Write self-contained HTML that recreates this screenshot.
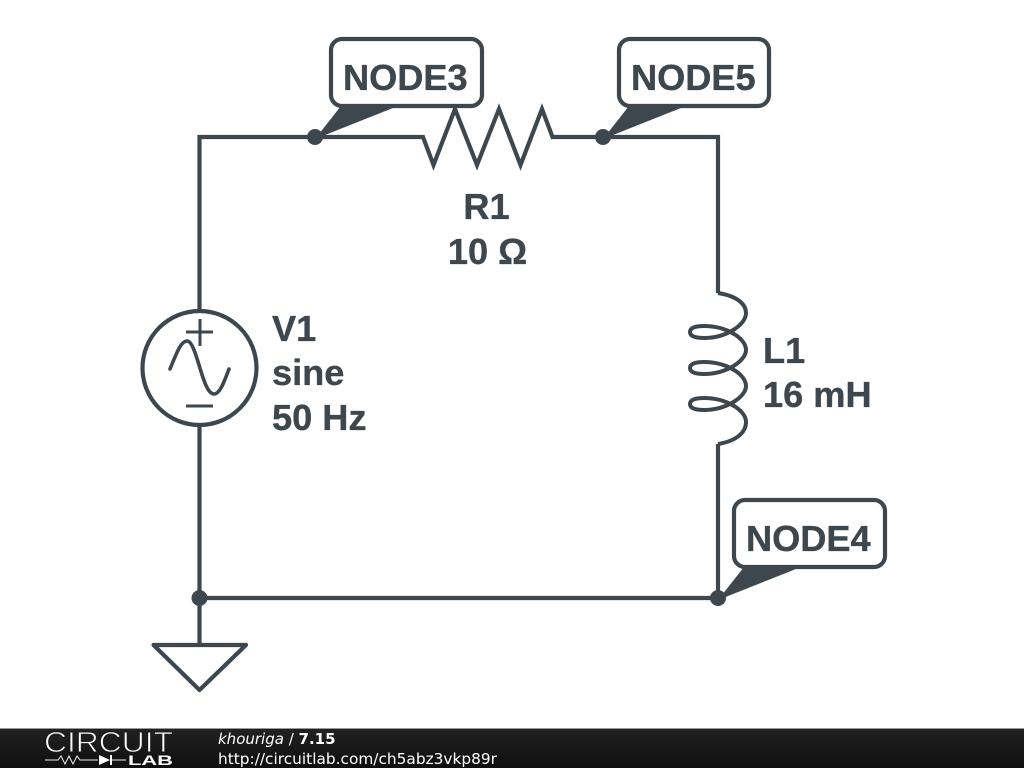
<!DOCTYPE html>
<html><head><meta charset="utf-8"><style>
html,body{margin:0;padding:0;background:#fff;width:1024px;height:768px;overflow:hidden}
svg{display:block}
.l{font-family:"Liberation Sans",sans-serif;font-weight:bold;font-size:36.2px;fill:#3d474d;stroke:#3d474d;stroke-width:.35px}
.f{font-family:"DejaVu Sans",sans-serif;font-size:15px;fill:#fff}
</style></head><body>
<svg width="1024" height="768" viewBox="0 0 1024 768" xmlns="http://www.w3.org/2000/svg">
<defs><linearGradient id="g" x1="0" y1="0" x2="0" y2="1"><stop offset="0" stop-color="#222"/><stop offset="1" stop-color="#0f0f0f"/></linearGradient></defs>
<g fill="none" stroke="#3d474d" stroke-width="4.2" stroke-linejoin="miter">
<path d="M199.5 310V137H423L433.5 165L455 109L477 165L499 109L520.5 165L542 109L552.5 137H718V293"/>
<path d="M199.5 426V645"/>
<path d="M199.5 598H718"/>
<path d="M718 444V598"/>
<circle cx="199.5" cy="368" r="57"/>
<path d="M186 332H213M200 319V346M186 406H213" stroke-width="3"/>
<path d="M170 369C177 352 181 341 187 341C197 341 202 394 214 394C220 394 224 382 229 369" stroke-linecap="round" stroke-width="3.6"/>
<path d="M153.500 645H246L199.500 690Z" stroke-linejoin="round"/>
<path d="M718 293C737 296 746 304 746 313C746 325 726 338 704 338C695 338 690 336 690 332C690 328 695 326 704 326C726 326 746 338 746 350C746 361 726 374 704 374C695 374 690 372 690 368C690 364 695 362 704 362C726 362 746 374 746 386C746 397 726 410 704 410C695 410 690 408 690 404C690 400 695 398 704 398C726 398 746 410 746 422C746 432 737 441 718 444" stroke-width="4"/>
<rect x="331" y="39" width="151" height="67" rx="11"/>
<rect x="619" y="39" width="150" height="67" rx="11"/>
<rect x="734" y="500" width="151" height="67" rx="11"/>
</g>
<g fill="#3d474d">
<circle cx="199.500" cy="598" r="8"/><circle cx="718" cy="598" r="8"/><circle cx="315" cy="137" r="8"/><circle cx="603" cy="137" r="8"/>
<path d="M315 139L341 106H398Z"/><path d="M603 139L629 106H686Z"/><path d="M718 600L744 567H801Z"/>
</g>
<text class="l" x="343" y="90">NODE3</text>
<text class="l" x="631" y="90">NODE5</text>
<text class="l" x="746" y="551">NODE4</text>
<text class="l" x="486.500" y="219" text-anchor="middle">R1</text>
<text class="l" x="487.500" y="264" text-anchor="middle">10 Ω</text>
<text class="l" x="272" y="341">V1</text>
<text class="l" x="272" y="385">sine</text>
<text class="l" x="272" y="430">50 Hz</text>
<text class="l" x="763" y="363">L1</text>
<text class="l" x="763" y="407">16 mH</text>
<rect x="0" y="728" width="1024" height="40" fill="url(#g)"/>
<rect x="0" y="728" width="1024" height="1" fill="#999"/>
<text x="44" y="752" font-family="'Liberation Sans',sans-serif" font-size="28.500" fill="#fff" stroke="#1c1c1c" stroke-width="0.9" paint-order="fill" textLength="129" lengthAdjust="spacingAndGlyphs">CIRCUIT</text>
<path d="M45 760H58L61 756L65 764L69 756L73 764L77 756L80 760H98M111 760H126" fill="none" stroke="#eee" stroke-width="1"/>
<path d="M99 755L110 760L99 765Z" fill="#fff"/><rect x="110" y="755" width="2" height="10" fill="#fff"/>
<text x="128" y="765" font-family="'Liberation Sans',sans-serif" font-weight="bold" font-size="14" fill="#fff" textLength="45" lengthAdjust="spacingAndGlyphs">LAB</text>
<text class="f" x="218" y="744"><tspan font-style="italic">khouriga</tspan> / <tspan font-weight="bold">7.15</tspan></text>
<text class="f" x="218" y="764" textLength="279" lengthAdjust="spacingAndGlyphs">http://circuitlab.com/ch5abz3vkp89r</text>
</svg>
</body></html>
